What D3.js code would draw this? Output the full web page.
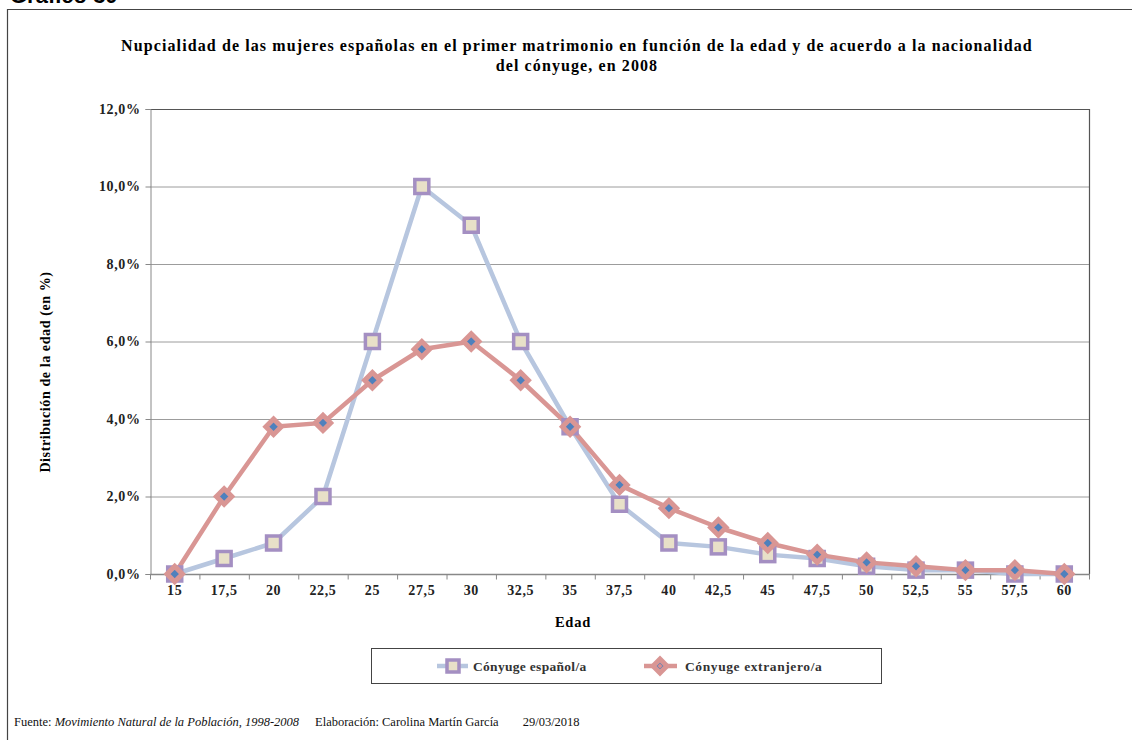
<!DOCTYPE html>
<html>
<head>
<meta charset="utf-8">
<script src="https://cdn.jsdelivr.net/npm/d3@7"></script>
<style>
  body { margin: 0; background: #fff; }
</style>
</head>
<body>
<div id="chart"></div>
<script>
// Nupcialidad por edad y nacionalidad del cónyuge, 2008

const edades = ['15', '17,5', '20', '22,5', '25', '27,5', '30', '32,5', '35', '37,5',
    '40', '42,5', '45', '47,5', '50', '52,5', '55', '57,5', '60'];
const conyugeEspanol = [0, 0.4, 0.8, 2.0, 6.0, 10.0, 9.0, 6.0, 3.8, 1.8,
    0.8, 0.7, 0.5, 0.4, 0.2, 0.1, 0.1, 0.0, 0.0];
const conyugeExtranjero = [0, 2.0, 3.8, 3.9, 5.0, 5.8, 6.0, 5.0, 3.8, 2.3,
    1.7, 1.2, 0.8, 0.5, 0.3, 0.2, 0.1, 0.1, 0.0];
const yTicks = [0, 2, 4, 6, 8, 10, 12];

const SERIF = "'Liberation Serif', 'Times New Roman', serif";

function drawChart() {
    const width = 1132, height = 740;
    const svg = d3.select('#chart').append('svg')
        .attr('width', width)
        .attr('height', height)
        .style('display', 'block')
        .attr('font-family', SERIF);

    // Outer frame (cut off at right and bottom)
    svg.append('path')
        .attr('d', `M7.5,${height + 5}V9.5H${width + 5}`)
        .attr('fill', 'none')
        .attr('stroke', '#444')
        .attr('stroke-width', 1.2);

    // Heading above the frame, mostly cut off
    svg.append('text')
        .attr('x', 10)
        .attr('y', 3)
        .attr('font-family', "'Liberation Sans', Arial, sans-serif")
        .attr('font-weight', 'bold')
        .attr('font-size', '22px')
        .text('Gráfico 30');

    // Title
    const title = svg.append('text')
        .attr('text-anchor', 'middle')
        .attr('font-family', SERIF)
        .attr('font-weight', 'bold')
        .attr('font-size', '16px')
        .attr('letter-spacing', '1.1px');
    title.append('tspan').attr('x', 577).attr('y', 51)
        .text('Nupcialidad  de las mujeres españolas en el primer matrimonio en función de la edad y de acuerdo a la nacionalidad');
    title.append('tspan').attr('x', 577).attr('y', 71)
        .text('del cónyuge, en 2008');

    const margin = { left: 150, right: 1089, top: 109, bottom: 574 };

    const x = d3.scaleBand()
        .domain(edades)
        .range([margin.left, margin.right]);

    const y = d3.scaleLinear()
        .domain([0, 12])
        .range([margin.bottom, margin.top]);

    // Gridlines
    svg.append('g')
        .selectAll('line')
        .data(yTicks.slice(1, -1))
        .enter()
        .append('line')
        .attr('x1', margin.left)
        .attr('x2', margin.right)
        .attr('y1', d => y(d) + 0.5)
        .attr('y2', d => y(d) + 0.5)
        .attr('stroke', '#9c9c9c')
        .attr('stroke-width', 1);

    // Plot border top & right
    svg.append('path')
        .attr('d', `M${margin.left},${margin.top + 0.5}H${margin.right + 0.5}V${margin.bottom}`)
        .attr('fill', 'none')
        .attr('stroke', '#555')
        .attr('stroke-width', 1.2);

    // Y axis
    const yAxis = svg.append('g')
        .attr('transform', `translate(${margin.left + 0.5},0)`)
        .call(d3.axisLeft(y)
            .tickValues(yTicks)
            .tickSize(5)
            .tickFormat(d => d.toFixed(1).replace('.', ',') + '%'));
    yAxis.attr('font-family', SERIF);
    yAxis.select('.domain').attr('stroke', '#888');
    yAxis.selectAll('.tick line').attr('stroke', '#888');
    yAxis.selectAll('.tick text')
        .attr('font-weight', 'bold')
        .attr('font-size', '14px')
        .attr('letter-spacing', '0.6px')
        .attr('fill', '#222')
        .attr('x', -10);

    // X axis with ticks between categories
    const xAxisG = svg.append('g')
        .attr('transform', `translate(0,${margin.bottom + 0.5})`);
    xAxisG.append('line')
        .attr('x1', margin.left)
        .attr('x2', margin.right + 1)
        .attr('stroke', '#888')
        .attr('stroke-width', 1.5);
    const boundaries = edades.map(d => x(d)).concat([margin.right]);
    xAxisG.selectAll('.tk')
        .data(boundaries)
        .enter()
        .append('line')
        .attr('x1', d => d + 0.5)
        .attr('x2', d => d + 0.5)
        .attr('y1', 0)
        .attr('y2', 5)
        .attr('stroke', '#888');
    xAxisG.selectAll('.lbl')
        .data(edades)
        .enter()
        .append('text')
        .attr('x', d => x(d) + x.bandwidth() / 2)
        .attr('y', 20)
        .attr('text-anchor', 'middle')
        .attr('font-weight', 'bold')
        .attr('font-size', '14px')
        .attr('letter-spacing', '0.6px')
        .attr('fill', '#222')
        .text(d => d);

    // Axis titles
    svg.append('text')
        .attr('x', 573)
        .attr('y', 627)
        .attr('text-anchor', 'middle')
        .attr('font-weight', 'bold')
        .attr('font-size', '14.5px')
        .attr('letter-spacing', '0.8px')
        .text('Edad');

    svg.append('text')
        .attr('transform', 'translate(50,372) rotate(-90)')
        .attr('text-anchor', 'middle')
        .attr('font-weight', 'bold')
        .attr('font-size', '14px')
        .attr('letter-spacing', '0.6px')
        .text('Distribución de la edad (en %)');

    const cx = (d, i) => x(edades[i]) + x.bandwidth() / 2;

    const line = d3.line()
        .x((d, i) => cx(d, i))
        .y(d => y(d));

    const blueLine = '#b7c6df';
    const redLine = '#d99694';

    // Series: cónyuge español/a
    svg.append('path')
        .datum(conyugeEspanol)
        .attr('d', line)
        .attr('fill', 'none')
        .attr('stroke', blueLine)
        .attr('stroke-width', 4.5)
        .attr('stroke-linejoin', 'round');

    // Series: cónyuge extranjero/a
    svg.append('path')
        .datum(conyugeExtranjero)
        .attr('d', line)
        .attr('fill', 'none')
        .attr('stroke', redLine)
        .attr('stroke-width', 4.5)
        .attr('stroke-linejoin', 'round');

    // Square markers
    svg.append('g')
        .selectAll('rect')
        .data(conyugeEspanol)
        .enter()
        .append('rect')
        .attr('x', (d, i) => cx(d, i) - 7)
        .attr('y', d => y(d) - 7)
        .attr('width', 14)
        .attr('height', 14)
        .attr('fill', '#e8e0c8')
        .attr('stroke', '#a48fc2')
        .attr('stroke-width', 3.5);

    // Diamond markers
    const diamond = d3.symbol().type(d3.symbolDiamond2);
    const g2 = svg.append('g');
    g2.selectAll('.dOuter')
        .data(conyugeExtranjero)
        .enter()
        .append('path')
        .attr('transform', (d, i) => `translate(${cx(d, i)},${y(d)})`)
        .attr('d', diamond.size(150)())
        .attr('fill', '#4f81bd')
        .attr('stroke', redLine)
        .attr('stroke-width', 5);
    g2.selectAll('.dInner')
        .data(conyugeExtranjero)
        .enter()
        .append('path')
        .attr('transform', (d, i) => `translate(${cx(d, i)},${y(d)})`)
        .attr('d', diamond.size(22)())
        .attr('fill', '#4f81bd');

    // Legend
    svg.append('rect')
        .attr('x', 371.5)
        .attr('y', 648.5)
        .attr('width', 510)
        .attr('height', 35)
        .attr('fill', '#fff')
        .attr('stroke', '#444')
        .attr('stroke-width', 1);

    const ly = 666;
    const lg1 = svg.append('g');
    lg1.append('line')
        .attr('x1', 437).attr('x2', 468).attr('y1', ly).attr('y2', ly)
        .attr('stroke', blueLine).attr('stroke-width', 4.5);
    lg1.append('rect')
        .attr('x', 447).attr('y', ly - 6).attr('width', 12).attr('height', 12)
        .attr('fill', '#e8e0c8').attr('stroke', '#a48fc2').attr('stroke-width', 3.5);
    lg1.append('text')
        .attr('x', 473).attr('y', ly + 5)
        .attr('font-weight', 'bold').attr('font-size', '13.5px').attr('fill', '#333')
        .attr('letter-spacing', '0.3px')
        .text('Cónyuge español/a');

    const lg2 = svg.append('g');
    lg2.append('line')
        .attr('x1', 644).attr('x2', 677).attr('y1', ly).attr('y2', ly)
        .attr('stroke', redLine).attr('stroke-width', 4.5);
    lg2.append('path')
        .attr('transform', `translate(660,${ly})`)
        .attr('d', diamond.size(120)())
        .attr('fill', '#4f81bd').attr('stroke', redLine).attr('stroke-width', 5);
    lg2.append('path')
        .attr('transform', `translate(660,${ly})`)
        .attr('d', diamond.size(16)())
        .attr('fill', '#e08c8a');
    lg2.append('text')
        .attr('x', 685).attr('y', ly + 5)
        .attr('font-weight', 'bold').attr('font-size', '13.5px').attr('fill', '#333')
        .attr('letter-spacing', '0.6px')
        .text('Cónyuge extranjero/a');

    // Footer
    const foot = svg.append('text')
        .attr('x', 14)
        .attr('y', 726)
        .attr('font-size', '12.5px')
        .attr('fill', '#111');
    foot.append('tspan').text('Fuente: ');
    foot.append('tspan').attr('font-style', 'italic')
        .text('Movimiento Natural de la Población, 1998-2008');
    foot.append('tspan').attr('dx', 16).text('Elaboración: Carolina Martín García');
    foot.append('tspan').attr('dx', 24).text('29/03/2018');
}

if (document.readyState === 'loading') {
    document.addEventListener('DOMContentLoaded', drawChart);
} else {
    drawChart();
}
</script>
</body>
</html>
